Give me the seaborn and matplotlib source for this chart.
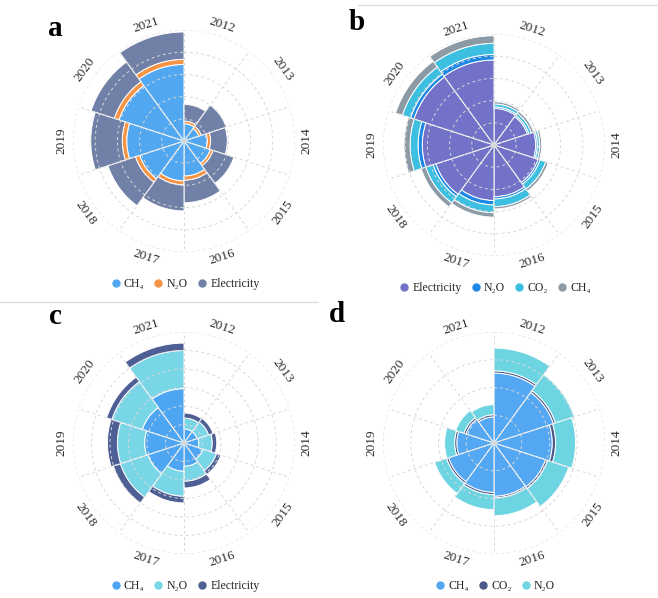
import numpy as np
import matplotlib
matplotlib.use('Agg')
import matplotlib.pyplot as plt
from matplotlib.lines import Line2D
import seaborn as sns

sns.set_theme(style='white')
plt.rcParams['font.family'] = ['Liberation Serif', 'DejaVu Serif']

years = ['2012', '2013', '2014', '2015', '2016', '2017', '2018', '2019', '2020', '2021']

# panel a (inner -> outer)
a_ch4 = [0.78, 0.70, 1.05, 1.25, 1.58, 1.80, 2.10, 2.58, 3.08, 3.45]
a_n2o = [0.12, 0.12, 0.15, 0.13, 0.19, 0.18, 0.20, 0.20, 0.22, 0.23]
a_elec = [0.75, 1.18, 0.75, 0.98, 1.01, 1.17, 1.30, 1.42, 1.10, 1.23]

# panel b
b_elec = [1.65, 1.58, 1.88, 2.09, 2.33, 2.50, 2.75, 3.23, 3.79, 3.83]
b_n2o = [0.07, 0.07, 0.07, 0.09, 0.10, 0.20, 0.13, 0.19, 0.16, 0.25]
b_co2 = [0.13, 0.12, 0.11, 0.27, 0.35, 0.35, 0.35, 0.36, 0.39, 0.50]
b_ch4 = [0.10, 0.11, 0.09, 0.12, 0.10, 0.20, 0.22, 0.27, 0.32, 0.34]

# panel c
c_ch4 = [0.76, 0.75, 0.80, 1.08, 1.26, 1.53, 2.05, 2.13, 2.37, 2.94]
c_n2o = [0.59, 0.65, 0.73, 0.77, 0.81, 1.35, 1.57, 1.47, 1.73, 2.06]
c_elec = [0.27, 0.25, 0.24, 0.25, 0.36, 0.36, 0.40, 0.54, 0.30, 0.40]

# panel d
d_ch4 = [2.52, 2.25, 2.10, 1.95, 1.92, 1.78, 1.72, 1.34, 1.06, 0.94]
d_co2 = [0.08, 0.08, 0.12, 0.08, 0.06, 0.08, 0.08, 0.08, 0.08, 0.08]
d_n2o = [0.82, 0.72, 0.72, 0.80, 0.64, 0.54, 0.45, 0.36, 0.31, 0.36]

W, H = 658, 598
fig = plt.figure(figsize=(W / 100, H / 100), dpi=100)


def rose(cx, cy, R, series, n_rings, letter, lx, ly):
    rect = [(cx - R) / W, 1 - (cy + R) / H, 2 * R / W, 2 * R / H]
    ax = fig.add_axes(rect, projection='polar')
    ax.set_theta_zero_location('N')
    ax.set_theta_direction(-1)
    step = 2 * np.pi / len(years)
    theta = np.arange(len(years)) * step + step / 2
    bottom = np.zeros(len(years))
    for name, vals, col in series:
        ax.bar(theta, vals, width=step, bottom=bottom, color=col,
               edgecolor='white', linewidth=0.7)
        bottom = bottom + np.array(vals)
    ax.set_ylim(0, n_rings)
    ax.set_yticks(np.arange(1, n_rings + 1))
    ax.set_yticklabels([])
    ax.set_xticks(np.arange(len(years)) * step)
    ax.set_xticklabels([])
    ax.set_axisbelow(False)
    ax.grid(True, color='#d8d8d8', linestyle=(0, (3, 3)), linewidth=0.7)
    ax.spines['polar'].set_visible(False)
    ax.set_facecolor('none')
    for t, lab in zip(theta, years):
        rot = -np.degrees(t)
        while rot <= -90:
            rot += 180
        while rot > 90:
            rot -= 180
        ax.text(t, n_rings * 1.1, lab, rotation=rot, rotation_mode='anchor',
                ha='center', va='center', fontsize=9.5, color='#2b2b2b')
    handles = [Line2D([], [], marker='o', ls='', color=c, markersize=5)
               for _, _, c in series]
    ax.legend(handles, [s[0] for s in series], loc='center',
              bbox_to_anchor=(0.5, -0.145), ncol=len(series), frameon=False,
              fontsize=8.5, handletextpad=0.1, columnspacing=0.6,
              handlelength=1.2)
    fig.text(lx / W, 1 - ly / H, letter, fontsize=21, fontweight='bold',
             ha='center', va='center', color='black')
    return ax


rose(184, 141, 111,
     [('CH\u2084', a_ch4, '#52a8f0'), ('N\u2082O', a_n2o, '#f59445'),
      ('Electricity', a_elec, '#7180a6')], 5, 'a', 55, 28)
rose(494, 145, 111,
     [('Electricity', b_elec, '#7272c8'), ('N\u2082O', b_n2o, '#1e88e5'),
      ('CO\u2082', b_co2, '#3cbfe0'), ('CH\u2084', b_ch4, '#8c9aa6')], 5, 'b', 357, 22)
rose(184, 443, 111,
     [('CH\u2084', c_ch4, '#4ea6f2'), ('N\u2082O', c_n2o, '#79d6e6'),
      ('Electricity', c_elec, '#4d5f94')], 6, 'c', 55, 317)
rose(494, 443, 111,
     [('CH\u2084', d_ch4, '#54a7f2'), ('CO\u2082', d_co2, '#4b5a8a'),
      ('N\u2082O', d_n2o, '#6dd4e2')], 4, 'd', 337, 315)

fig.add_artist(Line2D([358 / W, 1], [1 - 5 / H] * 2, color='#dddddd', lw=1))
fig.add_artist(Line2D([0, 318 / W], [1 - 302 / H] * 2, color='#dddddd', lw=1))

fig.savefig('out.png', dpi=100)
